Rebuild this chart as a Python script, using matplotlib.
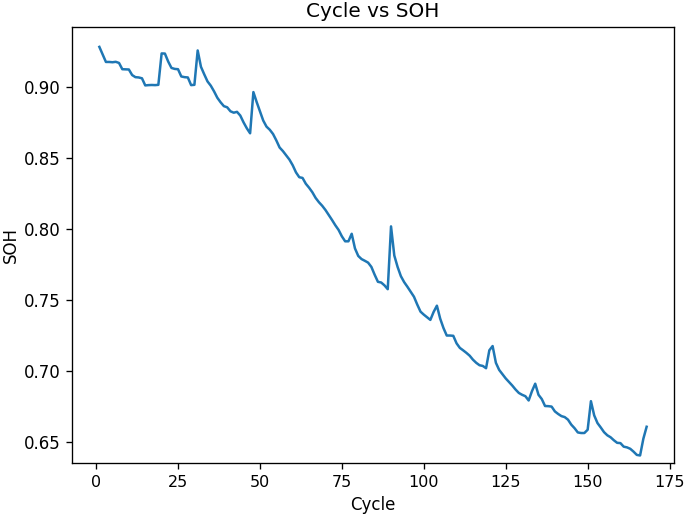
import matplotlib
matplotlib.use("Agg")
import matplotlib.pyplot as plt
import numpy as np

cycles = list(range(1, 169))
soh = [
    0.9283, 0.9230, 0.9177, 0.9177, 0.9175, 0.9178, 0.9170, 0.9126, 0.9125, 0.9124,
    0.9085, 0.9070, 0.9068, 0.9062, 0.9012, 0.9014, 0.9015, 0.9014, 0.9016, 0.9237,
    0.9236, 0.9180, 0.9135, 0.9128, 0.9126, 0.9075, 0.9070, 0.9068, 0.9014, 0.9016,
    0.9258, 0.9143, 0.9090, 0.9040, 0.9010, 0.8970, 0.8925, 0.8893, 0.8866, 0.8858,
    0.8830, 0.8820, 0.8826, 0.8800, 0.8752, 0.8710, 0.8675, 0.8965, 0.8895, 0.8830,
    0.8765, 0.8722, 0.8700, 0.8670, 0.8625, 0.8575, 0.8550, 0.8520, 0.8490, 0.8450,
    0.8400, 0.8366, 0.8361, 0.8320, 0.8292, 0.8260, 0.8220, 0.8190, 0.8165, 0.8135,
    0.8100, 0.8065, 0.8028, 0.7995, 0.7950, 0.7915, 0.7915, 0.7968, 0.7865, 0.7812,
    0.7790, 0.7778, 0.7765, 0.7735, 0.7680, 0.7630, 0.7625, 0.7605, 0.7578, 0.8020,
    0.7815, 0.7735, 0.7670, 0.7628, 0.7595, 0.7560, 0.7525, 0.7470, 0.7420, 0.7399,
    0.7380, 0.7362, 0.7418, 0.7462, 0.7371, 0.7305, 0.7252, 0.7252, 0.7250, 0.7197,
    0.7165, 0.7148, 0.7130, 0.7110, 0.7082, 0.7060, 0.7043, 0.7038, 0.7022, 0.7148,
    0.7178, 0.7060, 0.7010, 0.6980, 0.6950, 0.6925, 0.6900, 0.6872, 0.6848, 0.6835,
    0.6825, 0.6795, 0.6860, 0.6913, 0.6835, 0.6805, 0.6756, 0.6755, 0.6752, 0.6718,
    0.6700, 0.6685, 0.6678, 0.6660, 0.6625, 0.6600, 0.6570, 0.6566, 0.6566, 0.6589,
    0.6790, 0.6690, 0.6636, 0.6605, 0.6572, 0.6550, 0.6536, 0.6515, 0.6497, 0.6495,
    0.6470, 0.6465, 0.6455, 0.6435, 0.6412, 0.6408, 0.6526, 0.6610,
]

DPI = 120
fig = plt.figure(figsize=(685 / DPI, 528 / DPI), dpi=DPI)
ax = fig.add_axes([72/685, 1-463/528, (674-72)/685, (463-27)/528])
ax.plot(cycles, soh, color="#1f77b4", linewidth=1.5)
ax.set_ylim(0.6355, 0.9423)
ax.set_xticks([0, 25, 50, 75, 100, 125, 150, 175])
ax.tick_params(axis="x", labelsize=9.6)
ax.set_title("Cycle vs SOH")
ax.set_xlabel("Cycle")
ax.set_ylabel("SOH", labelpad=2)
fig.savefig("out.png", dpi=DPI)
